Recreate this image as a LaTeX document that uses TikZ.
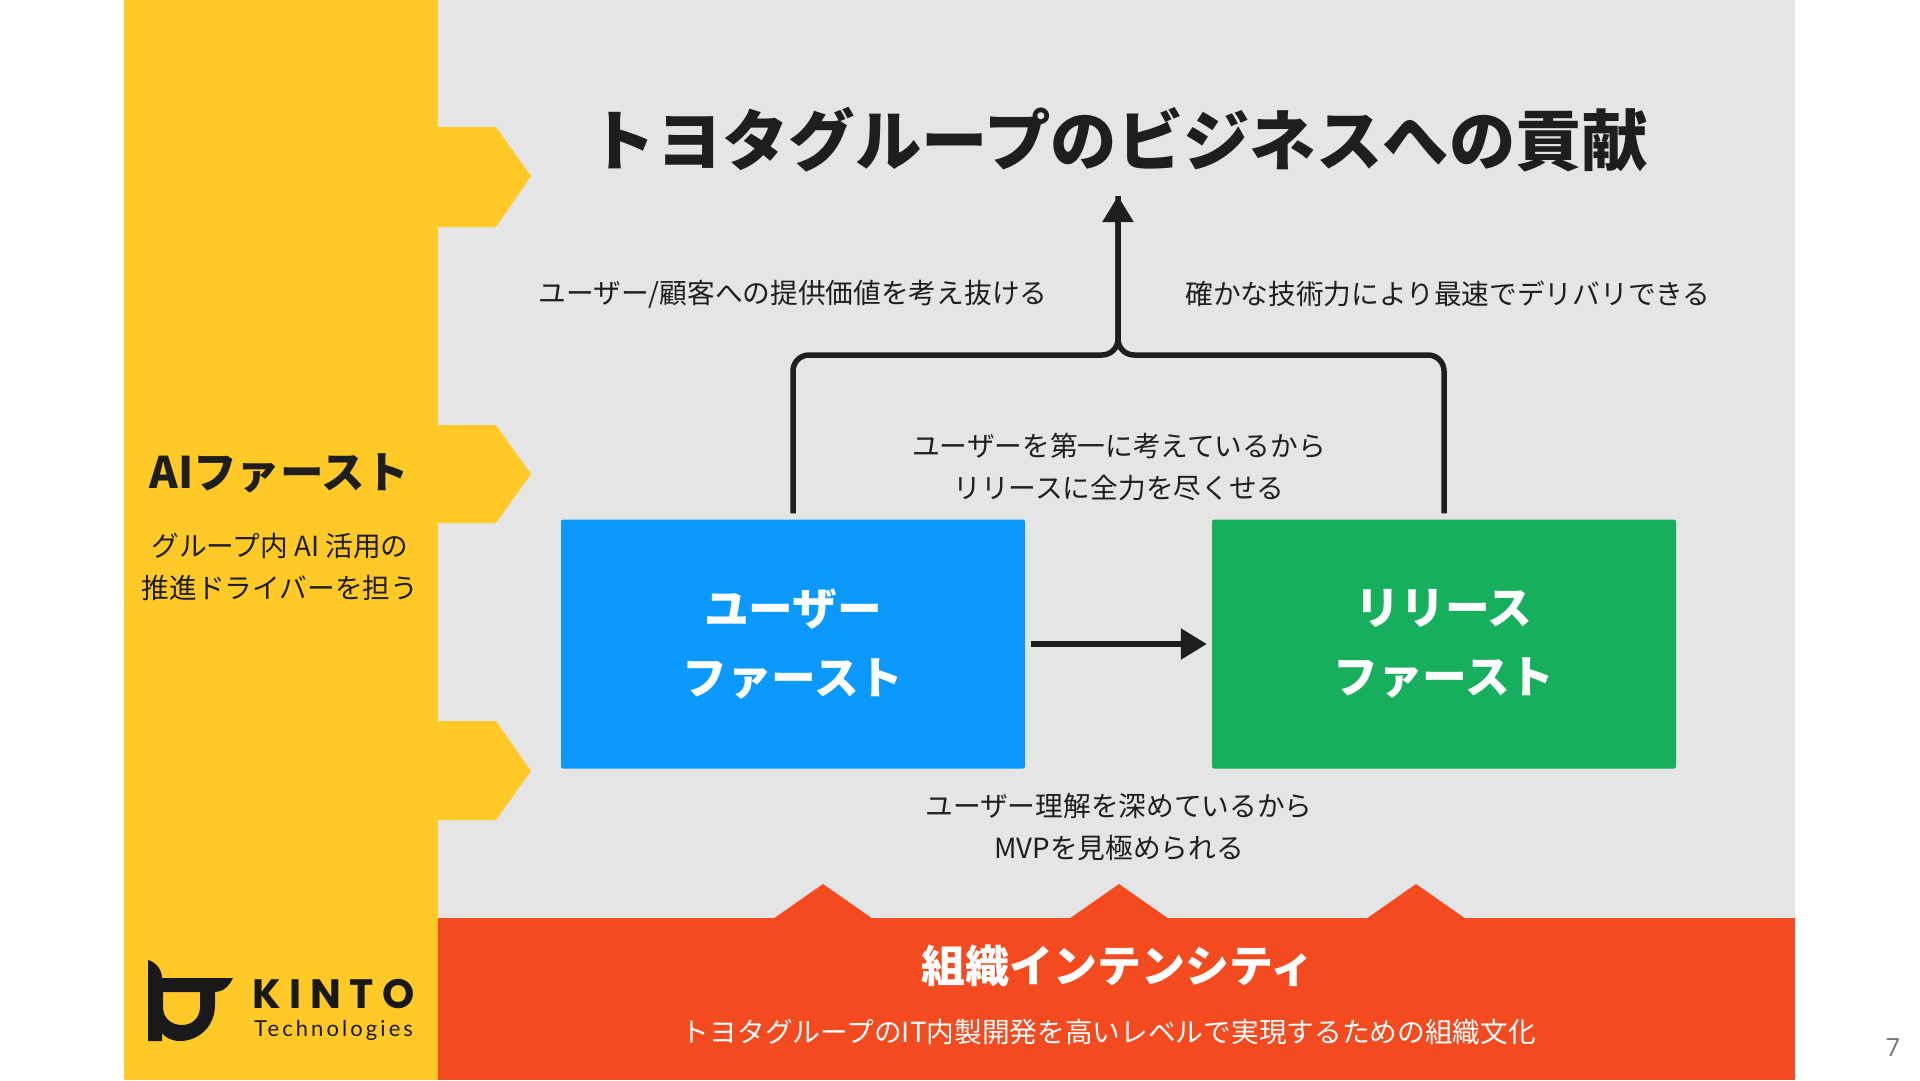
\documentclass[tikz,border=0pt]{standalone}
\usepackage{fontspec}
\usepackage{xcolor}
\usetikzlibrary{arrows.meta}
\setmainfont{Noto Sans CJK JP}
\newfontfamily\logofont[LetterSpace=14]{Lato}
\newfontfamily\logoheavy[LetterSpace=21]{Poppins}
\newfontfamily\pagefont{Open Sans}

\definecolor{sideyellow}{HTML}{FFCA28}
\definecolor{panelgray}{HTML}{E5E5E5}
\definecolor{culturered}{HTML}{F34A20}
\definecolor{userblue}{HTML}{0B99FF}
\definecolor{releasegreen}{HTML}{17AF5D}
\definecolor{inkblack}{HTML}{1E1E1E}

\tikzset{
    flowline/.style={draw=inkblack, line width=5.5pt},
    flowtip/.style={-{Triangle[length=26pt,width=30pt]}},
    firstbox/.style={rounded corners=2pt, minimum width=464pt, minimum height=249pt, text=white, align=center, font=\bfseries\fontsize{44.7}{69}\selectfont},
    bodytext/.style={text=inkblack, align=center, font=\fontsize{27.7}{42.5}\selectfont},
}

\begin{document}
\begin{tikzpicture}[x=1pt, y=-1pt]
    \useasboundingbox (0,0) rectangle (1920,1080);

    % Background bands
    \fill[white] (0,0) rectangle (1920,1080);
    \fill[panelgray] (437,0) rectangle (1795,918);
    \fill[sideyellow] (124,0) rectangle (438,1080);
    \fill[culturered] (438,918) rectangle (1795,1080);

    % Arrow shapes out of the side band
    \fill[sideyellow] (437,127) -- (496,127) -- (531,176) -- (496,227) -- (437,227) -- cycle;
    \fill[sideyellow] (437,425) -- (496,425) -- (531,474) -- (496,523) -- (437,523) -- cycle;
    \fill[sideyellow] (437,721) -- (496,721) -- (531,771) -- (496,820) -- (437,820) -- cycle;

    % Arrow shapes out of the bottom band
    \fill[culturered] (773,919) -- (823,884) -- (873,919) -- cycle;
    \fill[culturered] (1069,919) -- (1119,884) -- (1169,919) -- cycle;
    \fill[culturered] (1366,919) -- (1416,884) -- (1466,919) -- cycle;

    % Title and boxes
    \node[text=inkblack, font=\bfseries\fontsize{66.4}{70}\selectfont] (title) at (1119,140) {トヨタグループのビジネスへの貢献};
    \node[firstbox, fill=userblue] (userbox) at (793,644) {ユーザー\\ファースト};
    \node[firstbox, fill=releasegreen] (releasebox) at (1444,644) {リリース\\ファースト};

    % Connectors
    \coordinate (junction) at (1118,355);
    \coordinate (goal) at (1118,196);
    \draw[flowline, rounded corners=16pt, shorten <=6pt] (userbox.north) |- (junction) -- (goal);
    \draw[flowline, rounded corners=16pt, shorten <=6pt, flowtip] (releasebox.north) |- (junction) -- (goal);
    \draw[flowline, flowtip, shorten <=6pt, shorten >=5pt] (userbox.east) -- (releasebox.west);

    % Labels around the boxes
    \node[bodytext] (valuelabel) at (793,294) {ユーザー/顧客への提供価値を考え抜ける};
    \node[bodytext] (speedlabel) at (1448,294) {確かな技術力により最速でデリバリできる};
    \node[bodytext] (toplabel) at (1119,467) {ユーザーを第一に考えているから\\リリースに全力を尽くせる};
    \node[bodytext] (bottomlabel) at (1119,827) {ユーザー理解を深めているから\\MVPを見極められる};

    % Side band text
    \node[text=inkblack, font=\bfseries\fontsize{43.5}{46}\selectfont] (aifirst) at (279,473) {AIファースト};
    \node[bodytext] (aitext) at (280,567) {グループ内 AI 活用の\\推進ドライバーを担う};

    % Bottom band text
    \node[text=white, font=\bfseries\fontsize{44}{46}\selectfont] (culture) at (1118,966) {組織インテンシティ};
    \node[text=white, font=\fontsize{27.7}{32}\selectfont] (culturetext) at (1109,1032) {トヨタグループのIT内製開発を高いレベルで実現するための組織文化};

    % Logo
    \fill[black!90, even odd rule] (148,960) .. controls (156,962) and (162,970) .. (162,978) -- (233,978)
        .. controls (229,987) and (222,992) .. (215,992) -- (215,1005)
        .. controls (215,1027) and (198,1041) .. (180,1041)
        .. controls (172,1041) and (166,1038) .. (162,1033) -- (162,1041) -- (148,1041) -- cycle
        (163,992) -- (200,992) -- (200,1007)
        .. controls (200,1018) and (192,1025) .. (182,1025)
        .. controls (171,1025) and (163,1018) .. (163,1007) -- cycle;
    \node[anchor=base west, inner sep=0pt, text=black!90, font=\logoheavy\bfseries\fontsize{41}{44}\selectfont] (kinto) at (252,1008) {KINTO};
    \node[anchor=base west, inner sep=0pt, text=black!90, font=\logofont\fontsize{22}{24}\selectfont] (tech) at (254,1036) {Technologies};

    % Page number
    \node[text=black!55, font=\pagefont\fontsize{25}{28}\selectfont] (pageno) at (1893,1048) {7};
\end{tikzpicture}
\end{document}
